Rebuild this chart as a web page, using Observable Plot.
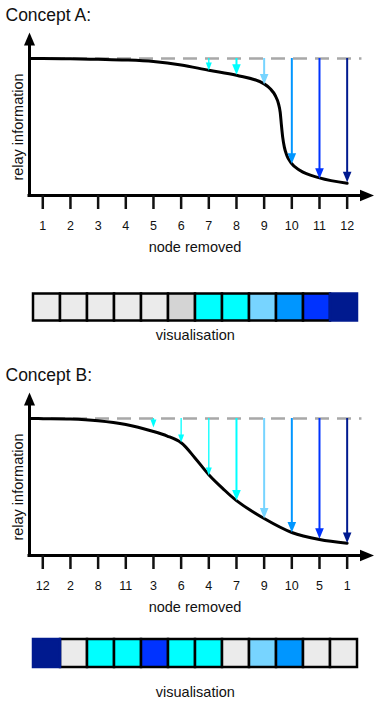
<!DOCTYPE html>
<html><head><meta charset="utf-8">
<script src="https://cdn.jsdelivr.net/npm/d3@7"></script>
<script src="https://cdn.jsdelivr.net/npm/@observablehq/plot@0.6"></script>
<style>
html,body{margin:0;padding:0;background:#fff;}
#root{position:relative;width:377px;height:705px;overflow:hidden;background:#fff;}
#root > svg{position:absolute;left:0;display:block;}
</style></head><body><div id="root"></div>
<script>
// ---- data ----
const positions = [1,2,3,4,5,6,7,8,9,10,11,12];
const nodes = [1,2,3,4,5,6,7,8,9,10,11,12];
const orderA = [1,2,3,4,5,6,7,8,9,10,11,12];
const orderB = [12,2,8,11,3,6,4,7,9,10,5,1];

const curveAPos = [0.52,1,2,3,4,5,6,7,8,9,9.22,9.4,9.52,9.58,9.62,9.67,9.73,9.82,9.98,10.3,11,12];
const curveAVal = [1,1,0.998,0.994,0.989,0.978,0.953,0.914,0.878,0.815,0.779,0.730,0.669,0.608,0.523,0.426,0.353,0.292,0.236,0.182,0.129,0.090];
const curveBPos = [0.52,1,2,3,4,5,5.5,6,6.5,7,7.5,8,9,10,11,12];
const curveBVal = [1,0.999,0.997,0.984,0.956,0.905,0.872,0.823,0.712,0.59,0.49,0.401,0.27,0.168,0.117,0.09];

const arrowAPos = [7,8,9,10,11,12];
const arrowATip = [0.912,0.881,0.81,0.231,0.122,0.097];
const arrowBPos = [5,6,7,8,9,10,11,12];
const arrowBTip = [0.934,0.825,0.584,0.401,0.27,0.168,0.122,0.092];

const classA = ["off","off","off","off","off","faint","c1","c1","c2","c3","c4","c5"];
const classB = ["c5","off","c1","c1","c4","c1","c1","off","c2","c3","off","off"];

const baseline = 1;
const classDomain = ["off","faint","c1","c2","c3","c4","c5"];
const classColors = ["#ebebeb","#d4d4d4","#00ffff","#77d4ff","#0096ff","#0033ff","#001a8f"];

// ---- drawing ----
const FONT = '"Liberation Sans", Arial, Helvetica, sans-serif';
const xLo = 0.52, xHi = 12.97, yTop = 1.19, dashEnd = 12.535;

const triDown = (w,h) => ({draw(c){c.moveTo(0,0);c.lineTo(-w,-h);c.lineTo(w,-h);c.closePath();}});
const triUp = {draw(c){c.moveTo(0,0);c.lineTo(-5.5,13);c.lineTo(5.5,13);c.closePath();}};
const triRight = {draw(c){c.moveTo(0,0);c.lineTo(-14,-5.8);c.lineTo(-14,5.8);c.closePath();}};

function concept(title, order, curvePos, curveVal, arrowPos, arrowTip, cls, curveType) {
  const curve = curvePos.map((x,i)=>({x, y: curveVal[i]}));
  const arrows = arrowPos.map((x,i)=>({x, tip: arrowTip[i], drop: baseline - arrowTip[i], cls: cls[order[x-1]-1]}));
  arrows.slice().sort((a,b)=>b.drop-a.drop).forEach((a,i)=>a.major = i < 5);
  const major = arrows.filter(a=>a.major), minor = arrows.filter(a=>!a.major);
  return Plot.plot({
    width: 377, height: 260,
    marginLeft: 29, marginRight: 3.5, marginTop: 32, marginBottom: 65,
    x: {type: "linear", domain: [xLo, xHi]},
    y: {domain: [0, yTop], axis: null},
    color: {domain: classDomain, range: classColors},
    style: {fontFamily: FONT, fontSize: "12.5px", color: "#111", background: "transparent", overflow: "visible"},
    marks: [
      Plot.ruleY([baseline], {x1: xLo, x2: dashEnd, stroke: "#a8a8a8", strokeWidth: 2.5, strokeDasharray: "14,8"}),
      Plot.line(curve, {x: "x", y: "y", curve: curveType, stroke: "#000", strokeWidth: 3}),
      Plot.ruleX(major, {x: "x", y1: baseline, y2: "tip", stroke: "cls", strokeWidth: 2, insetBottom: 6}),
      Plot.ruleX(minor, {x: "x", y1: baseline, y2: "tip", stroke: "cls", strokeWidth: 1.3, insetBottom: 4}),
      Plot.dot(major, {x: "x", y: "tip", symbol: triDown(4.3, 10.5), fill: "cls", stroke: "none"}),
      Plot.dot(minor, {x: "x", y: "tip", symbol: triDown(3, 8), fill: "cls", stroke: "none"}),
      Plot.ruleX([xLo], {y1: yTop, y2: 0, stroke: "#000", strokeWidth: 3, insetTop: 10, strokeLinecap: "square"}),
      Plot.ruleY([0], {x1: xLo, x2: xHi, stroke: "#000", strokeWidth: 3, insetRight: 10, strokeLinecap: "square"}),
      Plot.dot([0], {x: xLo, y: yTop, symbol: triUp, fill: "#000", stroke: "none"}),
      Plot.dot([0], {x: xHi, y: 0, symbol: triRight, fill: "#000", stroke: "none"}),
      Plot.axisX({ticks: positions, tickFormat: d => String(order[d-1]), tickSize: 14, tickPadding: 11.4, strokeWidth: 2.5, stroke: "#111", fontSize: 12.5, label: null}),
      Plot.text([title], {frameAnchor: "top-left", dx: -24, dy: -11.3, lineAnchor: "bottom", textAnchor: "start", fontSize: 17.5}),
      Plot.text(["relay information"], {y: 0.5, frameAnchor: "left", rotate: -90, dx: -11, fontSize: 14.5, textAnchor: "middle", lineAnchor: "middle"}),
      Plot.text(["node removed"], {x: (positions[0] + positions[positions.length-1]) / 2, frameAnchor: "bottom", dy: 56.5, lineAnchor: "bottom", fontSize: 14.5})
    ]
  });
}

function bar(cls, height, marginTop, frameH, labelDy) {
  const cells = nodes.map((n,i)=>({n, cls: cls[i]}));
  return Plot.plot({
    width: 377, height,
    marginLeft: 28.55, marginRight: 15.95, marginTop, marginBottom: height - marginTop - frameH,
    x: {type: "band", domain: nodes, padding: 0, axis: null},
    color: {domain: classDomain, range: classColors},
    style: {fontFamily: FONT, fontSize: "14.5px", color: "#111", background: "transparent", overflow: "visible"},
    marks: [
      Plot.cell(cells.filter(d=>d.cls !== "c5"), {x: "n", fill: "cls", stroke: "#000", strokeWidth: 2.5}),
      Plot.cell(cells.filter(d=>d.cls === "c5"), {x: "n", fill: "cls", stroke: "cls", strokeWidth: 2.5}),
      Plot.text(["visualisation"], {frameAnchor: "bottom", dy: labelDy, lineAnchor: "bottom", fontSize: 14.5})
    ]
  });
}

const root = document.getElementById("root");
function place(el, top){ el.style.top = top + "px"; root.appendChild(el); }
place(concept("Concept A:", orderA, curveAPos, curveAVal, arrowAPos, arrowATip, classA, "monotone-x"), 0);
place(bar(classA, 70, 13.5, 27, 18.8), 280);
place(concept("Concept B:", orderB, curveBPos, curveBVal, arrowBPos, arrowBTip, classB, "catmull-rom"), 360);
place(bar(classB, 80, 14, 28, 29.7), 625);
</script></body></html>
